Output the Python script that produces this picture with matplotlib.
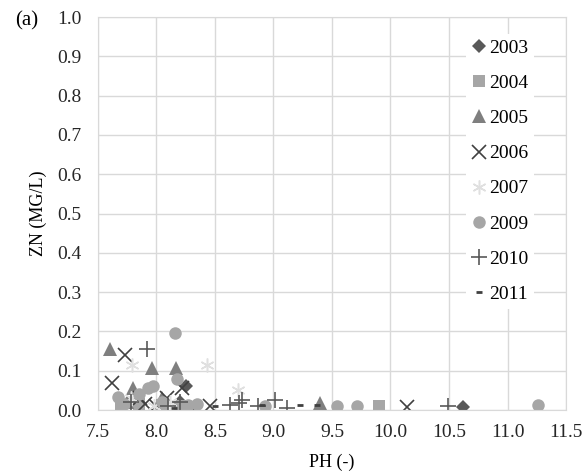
import matplotlib
matplotlib.use("Agg")
import matplotlib.pyplot as plt

plt.rcParams['font.family'] = ['Liberation Serif', 'DejaVu Serif']

# data (pH, Zn mg/L)
ph_2003 = [8.25, 8.20, 8.02, 10.62]
zn_2003 = [0.062, 0.020, 0.010, 0.008]
ph_2004 = [7.70, 7.85, 8.05, 8.20, 9.90]
zn_2004 = [0.010, 0.015, 0.012, 0.010, 0.010]
ph_2005 = [7.60, 7.96, 8.17, 7.80, 7.75, 8.05, 9.40]
zn_2005 = [0.155, 0.108, 0.108, 0.055, 0.020, 0.030, 0.018]
ph_2006 = [7.62, 7.73, 7.86, 7.90, 8.00, 8.09, 8.22, 8.30, 8.46, 10.14]
zn_2006 = [0.070, 0.140, 0.030, 0.015, 0.010, 0.030, 0.055, 0.005, 0.010, 0.008]
ph_2007 = [7.79, 8.43, 7.78, 8.12, 7.98, 8.70]
zn_2007 = [0.115, 0.115, 0.030, 0.020, 0.010, 0.050]
ph_2009 = [8.16, 8.18, 7.93, 7.97, 7.67, 7.72, 7.85, 8.05, 8.27, 8.35, 8.93, 9.54, 9.71, 11.26]
zn_2009 = [0.195, 0.078, 0.055, 0.060, 0.034, 0.015, 0.040, 0.020, 0.012, 0.015, 0.010, 0.010, 0.010, 0.013]
ph_2010 = [7.92, 7.78, 8.10, 8.20, 8.63, 8.71, 8.73, 8.87, 9.01, 9.12, 10.49]
zn_2010 = [0.155, 0.020, 0.010, 0.020, 0.012, 0.017, 0.026, 0.010, 0.025, 0.005, 0.010]
ph_2011 = [8.15, 8.50, 8.90, 9.23, 9.37]
zn_2011 = [0.005, 0.010, 0.012, 0.012, 0.012]

fig = plt.figure(figsize=(5.86, 4.74), dpi=100)
ax = fig.add_axes([0.167, 0.135, 0.799, 0.829])

ax.plot(ph_2003, zn_2003, 'D', color='#595959', ms=7, mew=0, label='2003')
ax.plot(ph_2004, zn_2004, 's', color='#a6a6a6', ms=8, mew=0, label='2004')
ax.plot(ph_2005, zn_2005, '^', color='#7f7f7f', ms=10, mew=0, label='2005')
ax.plot(ph_2006, zn_2006, 'x', color='#404040', ms=10, mew=1.2, label='2006')
ax.plot(ph_2007, zn_2007, marker=(6, 2, 0), ls='none', color='#e0e0e0', ms=10, mew=1.1, label='2007')
ax.plot(ph_2009, zn_2009, 'o', color='#a6a6a6', ms=9, mew=0, label='2009')
ax.plot(ph_2010, zn_2010, '+', color='#595959', ms=11, mew=1.2, label='2010')
ax.plot(ph_2011, zn_2011, '_', color='#404040', ms=5, mew=2, label='2011')

ax.set_xlim(7.5, 11.5)
ax.set_ylim(0, 1.0)
ax.set_xticks([7.5 + 0.5 * i for i in range(9)])
ax.set_yticks([0.1 * i for i in range(11)])
ax.set_xticklabels(['%.1f' % (7.5 + 0.5 * i) for i in range(9)])
ax.set_yticklabels(['%.1f' % (0.1 * i) for i in range(11)])
ax.tick_params(length=0, labelsize=14, colors='#262626')
ax.tick_params(axis='y', pad=12)
ax.tick_params(axis='x', pad=10)
ax.grid(True, color='#d9d9d9', lw=1)
ax.set_axisbelow(True)
for s in ax.spines.values():
    s.set_color('#d9d9d9')

ax.set_xlabel('PH (-)', fontsize=13, labelpad=9)
ax.set_ylabel('ZN (MG/L)', fontsize=13, labelpad=7)

leg = ax.legend(loc='center left', bbox_to_anchor=(0.765, 0.608), frameon=True,
                fontsize=14, labelspacing=0.9, handlelength=0.8,
                handletextpad=0.1, borderpad=0.3, framealpha=1)
leg.get_frame().set_edgecolor('white')
leg.get_frame().set_linewidth(0)

fig.text(0.025, 0.955, '(a)', fontsize=15, va='center')

fig.savefig('out.png', dpi=100)
